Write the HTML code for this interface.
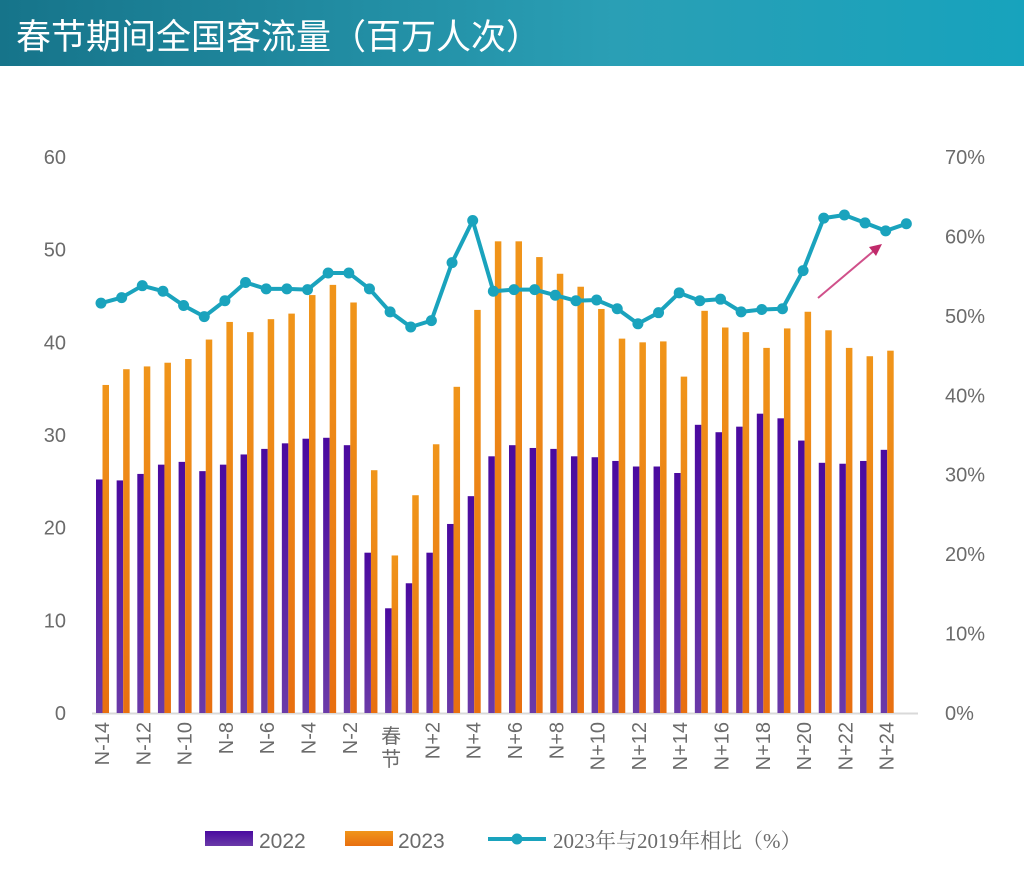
<!DOCTYPE html>
<html><head><meta charset="utf-8"><style>
body{margin:0;width:1024px;height:876px;background:#fff;overflow:hidden;font-family:"Liberation Sans","Noto Sans CJK SC",sans-serif}
#hdr{position:absolute;left:0;top:0;width:1024px;height:66px;background:linear-gradient(90deg,#16748a,#2a9fb5 60%,#17a3bd);}
#hdr span{position:absolute;left:16px;top:9px;color:#fff;font-size:35px;font-family:"Noto Sans CJK SC",sans-serif;letter-spacing:0px}
</style></head><body>
<div id="hdr"><span>春节期间全国客流量（百万人次）</span></div>
<svg id="c" width="1024" height="876" style="position:absolute;left:0;top:0"></svg>
<script>
const categories=["N-14","N-13","N-12","N-11","N-10","N-9","N-8","N-7","N-6","N-5","N-4","N-3","N-2","N-1","春节","N+1","N+2","N+3","N+4","N+5","N+6","N+7","N+8","N+9","N+10","N+11","N+12","N+13","N+14","N+15","N+16","N+17","N+18","N+19","N+20","N+21","N+22","N+23","N+24"];
const v2022=[25.2,25.1,25.8,26.8,27.1,26.1,26.8,27.9,28.5,29.1,29.6,29.7,28.9,17.3,11.3,14.0,17.3,20.4,23.4,27.7,28.9,28.6,28.5,27.7,27.6,27.2,26.6,26.6,25.9,31.1,30.3,30.9,32.3,31.8,29.4,27.0,26.9,27.2,28.4];
const v2023=[35.4,37.1,37.4,37.8,38.2,40.3,42.2,41.1,42.5,43.1,45.1,46.2,44.3,26.2,17.0,23.5,29.0,35.2,43.5,50.9,50.9,49.2,47.4,46.0,43.6,40.4,40.0,40.1,36.3,43.4,41.6,41.1,39.4,41.5,43.3,41.3,39.4,38.5,39.1];
const ratio=[51.6,52.3,53.8,53.1,51.3,49.9,51.9,54.2,53.4,53.4,53.3,55.4,55.4,53.4,50.5,48.6,49.4,56.7,62.0,53.1,53.3,53.3,52.6,51.9,52.0,50.9,49.0,50.4,52.9,51.9,52.1,50.5,50.8,50.9,55.7,62.3,62.7,61.7,60.7,61.6];
const leftTicks=[0,10,20,30,40,50,60];
const rightTicks=[0,10,20,30,40,50,60,70];
const NS="http://www.w3.org/2000/svg",svg=document.getElementById('c');
function mk(t,a,p){const e=document.createElementNS(NS,t);for(const k in a)e.setAttribute(k,a[k]);(p||svg).appendChild(e);return e;}
const y0=713,yTop=157;
const yL=v=>y0-(y0-yTop)*v/60;
const yR=v=>y0-(y0-yTop)*v/70;
const xC=i=>102+i*20.65;
const gray="#6b6b6b";
let ax=mk('line',{x1:92,x2:918,y1:y0+0.5,y2:y0+0.5,stroke:"#d9d9d9","stroke-width":2});

leftTicks.forEach(v=>{const t=mk('text',{x:66,y:yL(v)+7,"text-anchor":"end","font-size":20,fill:gray});t.textContent=v;
});
rightTicks.forEach(v=>{const t=mk('text',{x:945,y:yR(v)+7,"font-size":20,fill:gray});t.textContent=v+"%";
});
const defs=mk('defs',{});
const gp=mk('linearGradient',{id:'gp',x1:0,y1:0,x2:0,y2:1},defs);mk('stop',{offset:0,"stop-color":"#4a0aa0"},gp);mk('stop',{offset:1,"stop-color":"#6a3aa8"},gp);
const go=mk('linearGradient',{id:'go',x1:0,y1:0,x2:0,y2:1},defs);mk('stop',{offset:0,"stop-color":"#f0951a"},go);mk('stop',{offset:1,"stop-color":"#e86f10"},go);
categories.forEach((c,i)=>{const x=xC(i);
 let b=mk('rect',{x:x-6,y:yL(v2022[i]),width:6.5,height:y0-yL(v2022[i]),fill:"url(#gp)"});
 
 let o=mk('rect',{x:x+0.5,y:yL(v2023[i]),width:6.5,height:y0-yL(v2023[i]),fill:"url(#go)"});
 
 if(i%2==0){
  if(c==="春节"){["春","节"].forEach((ch,k)=>{const t=mk('text',{x:x,y:743+k*23,"text-anchor":"middle","font-size":20,fill:gray});t.textContent=ch;
   });}
  else{const t=mk('text',{x:0,y:0,"text-anchor":"end","font-size":20,fill:gray,transform:`translate(${x+7},722) rotate(-90)`});t.textContent=c;
   }
 }
});
const pts=ratio.map((v,i)=>[xC(i)-1,yR(v)]);
let pl=mk('polyline',{points:pts.map(p=>p.join(',')).join(' '),fill:"none",stroke:"#1aa3bd","stroke-width":4,"stroke-linejoin":"round"});

pts.forEach(p=>{const d=mk('circle',{cx:p[0],cy:p[1],r:5.5,fill:"#1aa3bd"});
});
let ar=mk('line',{x1:818,y1:298,x2:876,y2:249,stroke:"#d0508a","stroke-width":2});
let ah=mk('polygon',{points:"882,244 869,247 876,256",fill:"#c02a6a"});


let l1=mk('rect',{x:205,y:831,width:48,height:15,fill:"url(#gp)"});
let t1=mk('text',{x:259,y:848,"font-size":21,fill:gray});t1.textContent="2022";
let l2=mk('rect',{x:345,y:831,width:48,height:15,fill:"url(#go)"});
let t2=mk('text',{x:398,y:848,"font-size":21,fill:gray});t2.textContent="2023";
let l3=mk('line',{x1:488,x2:546,y1:839,y2:839,stroke:"#1aa3bd","stroke-width":4});
let l4=mk('circle',{cx:517,cy:839,r:5.5,fill:"#1aa3bd"});
let t3=mk('text',{x:553,y:848,"font-size":21,fill:gray,"font-family":"Liberation Serif, Noto Serif CJK SC, serif"});t3.textContent="2023年与2019年相比（%）";
</script>
</body></html>
